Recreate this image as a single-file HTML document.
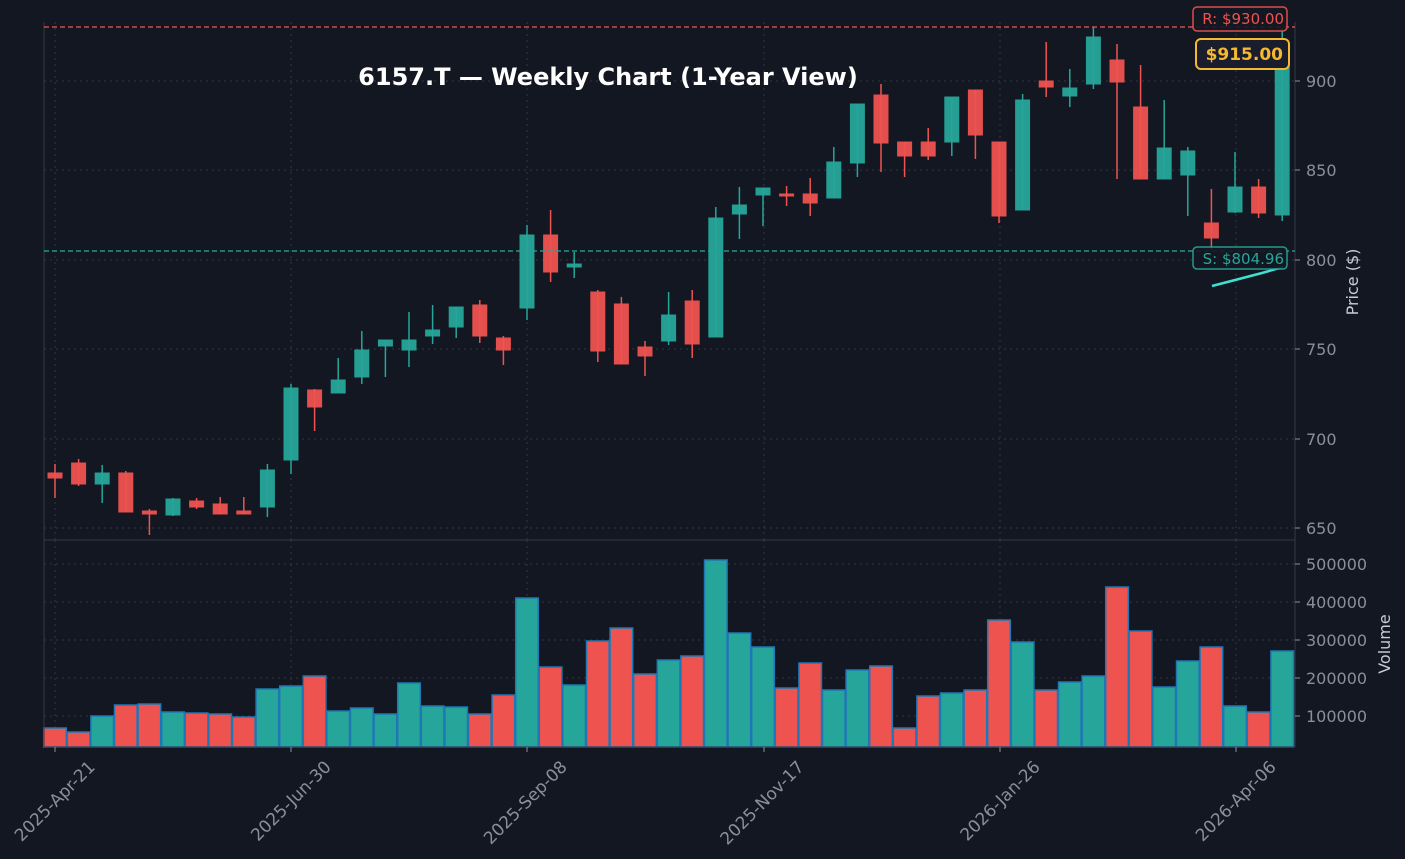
<!DOCTYPE html>
<html><head><meta charset="utf-8"><style>
html,body{margin:0;padding:0;background:#131722;}
svg{display:block;font-family:"DejaVu Sans","Liberation Sans",sans-serif;}
</style></head><body>
<svg id="s" width="1405" height="859" viewBox="0 0 1405 859" xmlns="http://www.w3.org/2000/svg">
<rect width="1405" height="859" fill="#131722"/>
<g id="grid" stroke="#3a3f4b" stroke-width="1" stroke-dasharray="2,4" opacity="0.8"></g>
<g id="vol"></g>
<g id="cand"></g>
<g id="ax"></g>
</svg>
<script>
const NS="http://www.w3.org/2000/svg";
function el(p,t,a,txt){const e=document.createElementNS(NS,t);for(const k in a)e.setAttribute(k,a[k]);if(txt!==undefined)e.textContent=txt;p.appendChild(e);return e;}
const grid=document.getElementById('grid'),vol=document.getElementById('vol'),cand=document.getElementById('cand'),ax=document.getElementById('ax');
const X=i=>55+23.6*i;
[55,291,527,764,1000,1236].forEach(x=>{el(grid,'line',{x1:x,y1:22,x2:x,y2:540});el(grid,'line',{x1:x,y1:540,x2:x,y2:747});});
[528,439,349,260,170,81].forEach(y=>el(grid,'line',{x1:44,y1:y,x2:1295,y2:y}));
[716,678,640,602,564].forEach(y=>el(grid,'line',{x1:44,y1:y,x2:1295,y2:y}));
const G='#26a69a',R='#ef5350';
const C=[[473,478,464,498,R],[463,484,459,486,R],[473,484,465,503,G],[473,512,471,512,R],[511,514,509,535,R],[499,515,498,516,G],[501,507,498,509,R],[504,514,497,514,R],[511,514,497,514,R],[470,507,464,517,G],
[388,460,384,474,G],[390,407,389,431,R],[380,393,358,393,G],[350,377,331,384,G],[340,346,340,377,G],[340,350,312,367,G],[330,336,305,344,G],[307,327,307,338,G],[305,336,300,343,R],[338,350,336,365,R],
[235,308,225,320,G],[235,272,210,282,R],[264,267,252,278,G],[292,351,290,362,R],[304,364,297,364,R],[347,356,341,376,R],[315,341,292,345,G],[301,344,290,358,R],[218,337,207,337,G],[205,214,187,239,G],
[188,195,188,226,G],[194,196,186,206,R],[194,203,178,216,R],[162,198,147,198,G],[104,163,104,177,G],[95,143,84,172,R],[142,156,142,177,R],[142,156,128,160,R],[97,142,97,156,G],[90,135,90,159,R],
[142,216,142,223,R],[100,210,94,210,G],[81,87,42,97,R],[88,96,69,107,G],[37,84,27,89,G],[60,82,44,179,R],[107,179,65,179,R],[148,179,100,179,G],[151,175,147,216,G],[223,238,189,250,R],
[187,212,152,213,G],[187,213,179,218,R],[56,215,28,221,G]];
const V=[728,732,716,705,704,712,713,714,717,689,686,676,711,708,714,683,706,707,714,695,598,667,685,641,628,674,660,656,560,633,647,688,663,690,670,666,728,696,693,690,620,642,690,682,676,587,631,687,661,647,706,712,651];
const VC=[R,R,G,R,R,G,R,R,R,G,G,R,G,G,G,G,G,G,R,R,G,R,G,R,R,R,G,R,G,G,G,R,R,G,G,R,R,R,G,R,R,G,R,G,G,R,R,G,G,R,G,R,G];
C.forEach((c,i)=>{const x=X(i);
 el(cand,'line',{x1:x,y1:c[2],x2:x,y2:c[3],stroke:c[4],'stroke-width':1.5});
 el(cand,'rect',{x:x-7,y:c[0],width:14,height:Math.max(2,c[1]-c[0]),fill:c[4],stroke:c[4],'stroke-width':1,opacity:0.95});
 el(vol,'rect',{x:x-11.3,y:V[i],width:22.6,height:747-V[i],fill:VC[i],stroke:'#1f77b4','stroke-width':1.5});
});
el(ax,'line',{x1:44,y1:22,x2:44,y2:747,stroke:'#363a45'});
el(ax,'line',{x1:1295,y1:22,x2:1295,y2:747,stroke:'#363a45'});
el(ax,'line',{x1:44,y1:540,x2:1295,y2:540,stroke:'#363a45'});
el(ax,'line',{x1:44,y1:747,x2:1295,y2:747,stroke:'#363a45'});
el(ax,'line',{x1:44,y1:27,x2:1295,y2:27,stroke:'#ef5350','stroke-width':1.5,'stroke-dasharray':'5,3',opacity:0.85});
el(ax,'line',{x1:44,y1:251,x2:1295,y2:251,stroke:'#26a69a','stroke-width':1.5,'stroke-dasharray':'5,3',opacity:0.85});
el(ax,'polyline',{points:'1212,286 1262,273 1283,267',fill:'none',stroke:'#40e0d0','stroke-width':2.5});
[[650,528],[700,439],[750,349],[800,260],[850,170],[900,81]].forEach(t=>{
 el(ax,'line',{x1:1295,y1:t[1],x2:1300,y2:t[1],stroke:'#8a8f99'});
 el(ax,'text',{x:1306,y:t[1]+6,fill:'#8a8f99','font-size':16},t[0]);});
[[100000,716],[200000,678],[300000,640],[400000,602],[500000,564]].forEach(t=>{
 el(ax,'line',{x1:1295,y1:t[1],x2:1300,y2:t[1],stroke:'#8a8f99'});
 el(ax,'text',{x:1306,y:t[1]+6,fill:'#8a8f99','font-size':16},t[0]);});
el(ax,'text',{x:1358,y:282,fill:'#c8ccd4','font-size':16,'text-anchor':'middle',transform:'rotate(-90 1358 282)'},'Price ($)');
el(ax,'text',{x:1390,y:644,fill:'#c8ccd4','font-size':16,'text-anchor':'middle',transform:'rotate(-90 1390 644)'},'Volume');
[['2025-Apr-21',55],['2025-Jun-30',291],['2025-Sep-08',527],['2025-Nov-17',764],['2026-Jan-26',1000],['2026-Apr-06',1236]].forEach(d=>{
 el(ax,'line',{x1:d[1],y1:747,x2:d[1],y2:752,stroke:'#8a8f99'});
 const ax0=d[1]+41, ay0=768;
 el(ax,'text',{x:ax0,y:ay0,fill:'#8a8f99','font-size':17,'text-anchor':'end',transform:`rotate(-45 ${ax0} ${ay0})`},d[0]);});
el(ax,'text',{x:608,y:85,fill:'#ffffff','font-size':24,'font-weight':'bold','text-anchor':'middle'},'6157.T — Weekly Chart (1-Year View)');
el(ax,'rect',{x:1193,y:7,width:94,height:24,rx:4,fill:'#131722',stroke:'#ef5350','stroke-width':1.5,opacity:0.9});
el(ax,'text',{x:1284,y:24,fill:'#ef5350','font-size':15,'text-anchor':'end'},'R: $930.00');
el(ax,'rect',{x:1196,y:39,width:93,height:30,rx:5,fill:'#1a1d2e',stroke:'#f5b82e','stroke-width':2});
el(ax,'text',{x:1283,y:60,fill:'#f5b82e','font-size':17,'font-weight':'bold','text-anchor':'end'},'$915.00');
el(ax,'rect',{x:1193,y:247,width:94,height:22,rx:4,fill:'#131722',stroke:'#26a69a','stroke-width':1.5,opacity:0.9});
el(ax,'text',{x:1284,y:264,fill:'#26a69a','font-size':15,'text-anchor':'end'},'S: $804.96');
</script>
</body></html>
